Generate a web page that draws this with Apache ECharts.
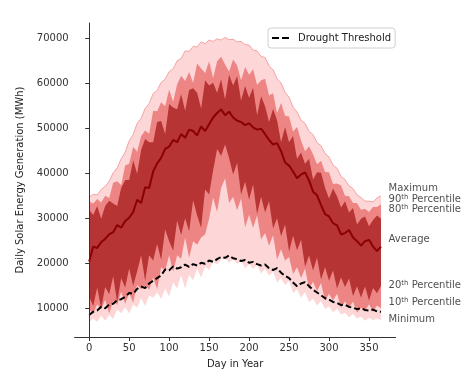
<!DOCTYPE html>
<html><head><meta charset="utf-8">
<script src="https://cdn.jsdelivr.net/npm/echarts@6/dist/echarts.min.js"></script>
<style>html,body{margin:0;padding:0;background:#fff}#c{width:474px;height:381px}</style>
</head><body><div id="c"></div>
<script>
const days = [0,5,10,15,20,25,30,35,40,45,50,55,60,65,70,75,80,85,90,95,100,105,110,115,120,125,130,135,140,145,150,155,160,165,170,175,180,185,190,195,200,205,210,215,220,225,230,235,240,245,250,255,260,265,270,275,280,285,290,295,300,305,310,315,320,325,330,335,340,345,350,355,360,365];
const maximum = [34800,35400,35300,36500,37200,38300,40200,41300,43300,44800,
 47300,48700,51200,52300,54500,55600,57800,58500,60300,61000,
 62700,63300,65100,65600,67300,67200,68300,68200,69300,68900,
 69700,69400,70000,69700,70300,69800,69900,69300,69400,68700,
 68600,67500,67300,66100,65800,64000,63100,61100,60200,58100,
 57000,54800,53700,51900,51200,49400,48700,46900,46200,44500,
 43700,41900,41200,39400,38700,37300,36700,35300,34700,33900,
 33900,33700,34600,35100];
const p90 = [33800,33400,34400,33600,35100,34600,38000,38300,37500,41800,
 42200,46000,44900,48400,49600,48900,54000,53900,55900,55000,
 58700,56000,59900,61800,60600,62600,60200,64500,63400,62400,
 65000,61300,65000,66000,64300,62700,65400,64100,60800,63700,
 62000,63200,59700,60800,61100,57400,57900,53500,55700,52900,
 52700,49400,50400,47400,45000,46100,44300,42100,42900,40400,
 40300,37700,37800,37400,35100,35000,33500,33500,32000,32200,
 31500,32600,32600,33200];
const p80 = [32000,30800,32800,30000,32800,34000,33400,32800,36800,38600,
 38600,43000,40000,45300,47700,47000,47000,51500,51700,48800,
 55500,54700,54300,57700,54000,58600,59000,58000,54500,60800,
 59600,60200,58000,61000,56500,62000,59600,61700,56300,59500,
 56900,59100,53000,57200,55000,51500,54400,51900,47000,50400,
 47000,48400,43300,44700,42200,43300,38700,40300,40200,36900,
 34500,36700,35000,32500,33900,31400,32400,28700,30000,30500,
 28300,29700,30700,30000];
const average = [20500,23800,23500,24800,25500,26500,27000,28600,28000,29500,
 30200,31500,34200,33500,37000,36800,40500,42300,43500,45500,
 46000,47500,47000,48800,48000,49800,49500,48500,50500,49500,
 51000,52500,53500,54300,53000,53800,52500,51800,51500,50800,
 51200,50300,49800,50000,48800,47500,46500,46800,45000,42500,
 41800,40500,39000,39800,40300,38500,36000,35200,33000,31000,
 30500,29000,28500,26500,26800,27500,25800,25000,24000,25000,
 25300,23800,22800,23800];
const p20 = [12700,10600,14700,10100,14800,13200,17200,11400,16800,14700,
 18900,15100,18300,21900,16200,21900,20700,24400,20800,27600,
 25000,22900,29600,26400,30100,27200,34100,30700,28000,36500,
 35400,40700,45500,44000,46500,43500,39800,42400,35400,38200,
 34200,37600,31000,34900,31400,33900,27800,30100,26100,28700,
 22700,26200,23000,25300,19300,21800,18500,21300,16500,19200,
 16200,18500,14500,16900,14800,16700,12800,15000,12500,14900,
 11800,14600,13400,15100];
const p10 = [9800,8800,11000,9800,12000,8900,11700,10800,13800,11100,
 13400,11300,15300,14300,15200,14200,17000,14300,19200,18400,
 21900,18200,21900,21100,25800,21300,25000,24200,25800,26500,
 30000,34700,31500,36800,39000,33500,34900,31900,34500,28100,
 30900,28000,30700,25400,26800,24000,26300,20900,23200,20700,
 21500,17700,19200,16800,18900,14400,16000,13900,15700,11800,
 13300,11800,13300,10200,11600,10200,11600,9100,10200,9500,
 11000,9300,10700,10100];
const minimum = [7000,7800,7100,8400,7300,8600,7700,9800,9000,10300,
 9000,10900,10200,12300,10600,12900,12400,13600,12200,14400,
 12700,15800,14500,17400,14500,17500,16300,19000,16900,19400,
 18600,20500,19800,21000,21200,20200,20900,20000,20600,19000,
 19900,18800,19700,17800,18900,17300,18300,15800,16800,15200,
 16200,13500,14300,12500,13700,11400,12200,10700,11700,9900,
 10500,9200,10000,8700,9100,8100,8800,7800,8200,7300,
 8000,7400,7800,7500];
const drought = [8600,9300,9600,10400,10100,10900,11100,11900,12100,12600,
 13500,13300,14400,14900,14600,15600,16200,16800,17400,18700,
 18500,19400,18900,19200,19800,19300,19900,19600,20200,20000,
 20700,20400,21000,21500,21300,21800,21200,21000,20600,20800,
 20200,20400,19900,19600,19800,19000,18600,19000,18000,17300,
 16800,15800,15000,15600,15900,15000,14200,13600,13000,12300,
 12000,11500,11300,10800,10900,10400,10200,9900,10100,9700,
 9600,9800,9400,9300];
const labelNames = ['Maximum','90{s|th} Percentile','80{s|th} Percentile','Average','20{s|th} Percentile','10{s|th} Percentile','Minimum'];
const labelValues = [36630,34190,31970,25310,15100,11330,7560];
const labelDay = 374.5;
const xTicks = [0,50,100,150,200,250,300,350];
const yTicks = [10000,20000,30000,40000,50000,60000,70000];

const LIGHT = '#fdd7d7', SALMON = '#ee8585', DARK = '#b73434';
const pairs = arr => days.map((d,i)=>[d,arr[i]]);
function area(arr, color, line){
  return {type:'line', data:pairs(arr), symbol:'none', silent:true, z:2,
    lineStyle: line ? {color:line, width:1} : {width:0, opacity:0},
    areaStyle:{color, opacity:1, origin:'start'}};
}
const font = 'DejaVu Sans';
const chart = echarts.init(document.getElementById('c'), null, {renderer:'canvas'});
chart.setOption({
  animation:false,
  textStyle:{fontFamily:font},
  grid:{left:74.6, right:78.4, top:23, bottom:44},
  legend:{data:[{name:'Drought Threshold', icon:'path://M0,0H7V2H0Z M10,0H17V2H10Z'}], left:268, top:28, itemWidth:17, itemHeight:2, itemGap:8,
    padding:[5,4,5,4], borderColor:'#d0d0d0', borderWidth:1, borderRadius:3, backgroundColor:'#fff',
    itemStyle:{color:'#000'},
    textStyle:{fontFamily:font, fontSize:10, color:'#222', padding:[0,0,0,4]}},
  xAxis:{type:'value', min:-18.25, max:383.25, z:10, name:'Day in Year', nameLocation:'middle', nameGap:22,
    nameTextStyle:{fontFamily:font, fontSize:10, color:'#222'},
    splitLine:{show:false},
    axisLine:{lineStyle:{color:'#333', width:1}},
    axisTick:{show:true, length:4, lineStyle:{color:'#333'}, customValues:xTicks},
    axisLabel:{customValues:xTicks, fontFamily:font, fontSize:10, color:'#333', margin:6}},
  yAxis:{type:'value', min:3700, max:73500, z:10, name:'Daily Solar Energy Generation (MWh)', nameLocation:'middle', nameGap:42,
    nameTextStyle:{fontFamily:font, fontSize:10, color:'#222'},
    splitLine:{show:false},
    axisLine:{show:true, lineStyle:{color:'#333', width:1}},
    axisTick:{show:true, length:4, lineStyle:{color:'#333'}, customValues:yTicks},
    axisLabel:{customValues:yTicks, formatter:v=>String(v), fontFamily:font, fontSize:10, color:'#333', margin:6}},
  series:[
    area(maximum, LIGHT, '#f3a3a3'),
    area(p90, SALMON),
    area(p80, DARK),
    area(p20, SALMON),
    area(p10, LIGHT),
    area(minimum, '#ffffff'),
    {type:'line', data:pairs(average), symbol:'none', silent:true, z:3, lineStyle:{color:'#8b0000', width:2}},
    {type:'line', name:'Drought Threshold', data:pairs(drought), symbol:'none', z:4,
      itemStyle:{color:'#000'}, lineStyle:{color:'#000', width:2, type:[6,3]}},
    {type:'scatter', data:labelValues.map(v=>[labelDay,v]), symbolSize:0, silent:true, clip:false, z:5,
      label:{show:true, position:[0,0], align:'left', verticalAlign:'middle', fontFamily:font, fontSize:10, color:'#222',
        formatter:p=>labelNames[p.dataIndex],
        rich:{s:{fontSize:7, verticalAlign:'top', lineHeight:12, fontFamily:font, color:'#222'}}}}
  ]
});
</script></body></html>
